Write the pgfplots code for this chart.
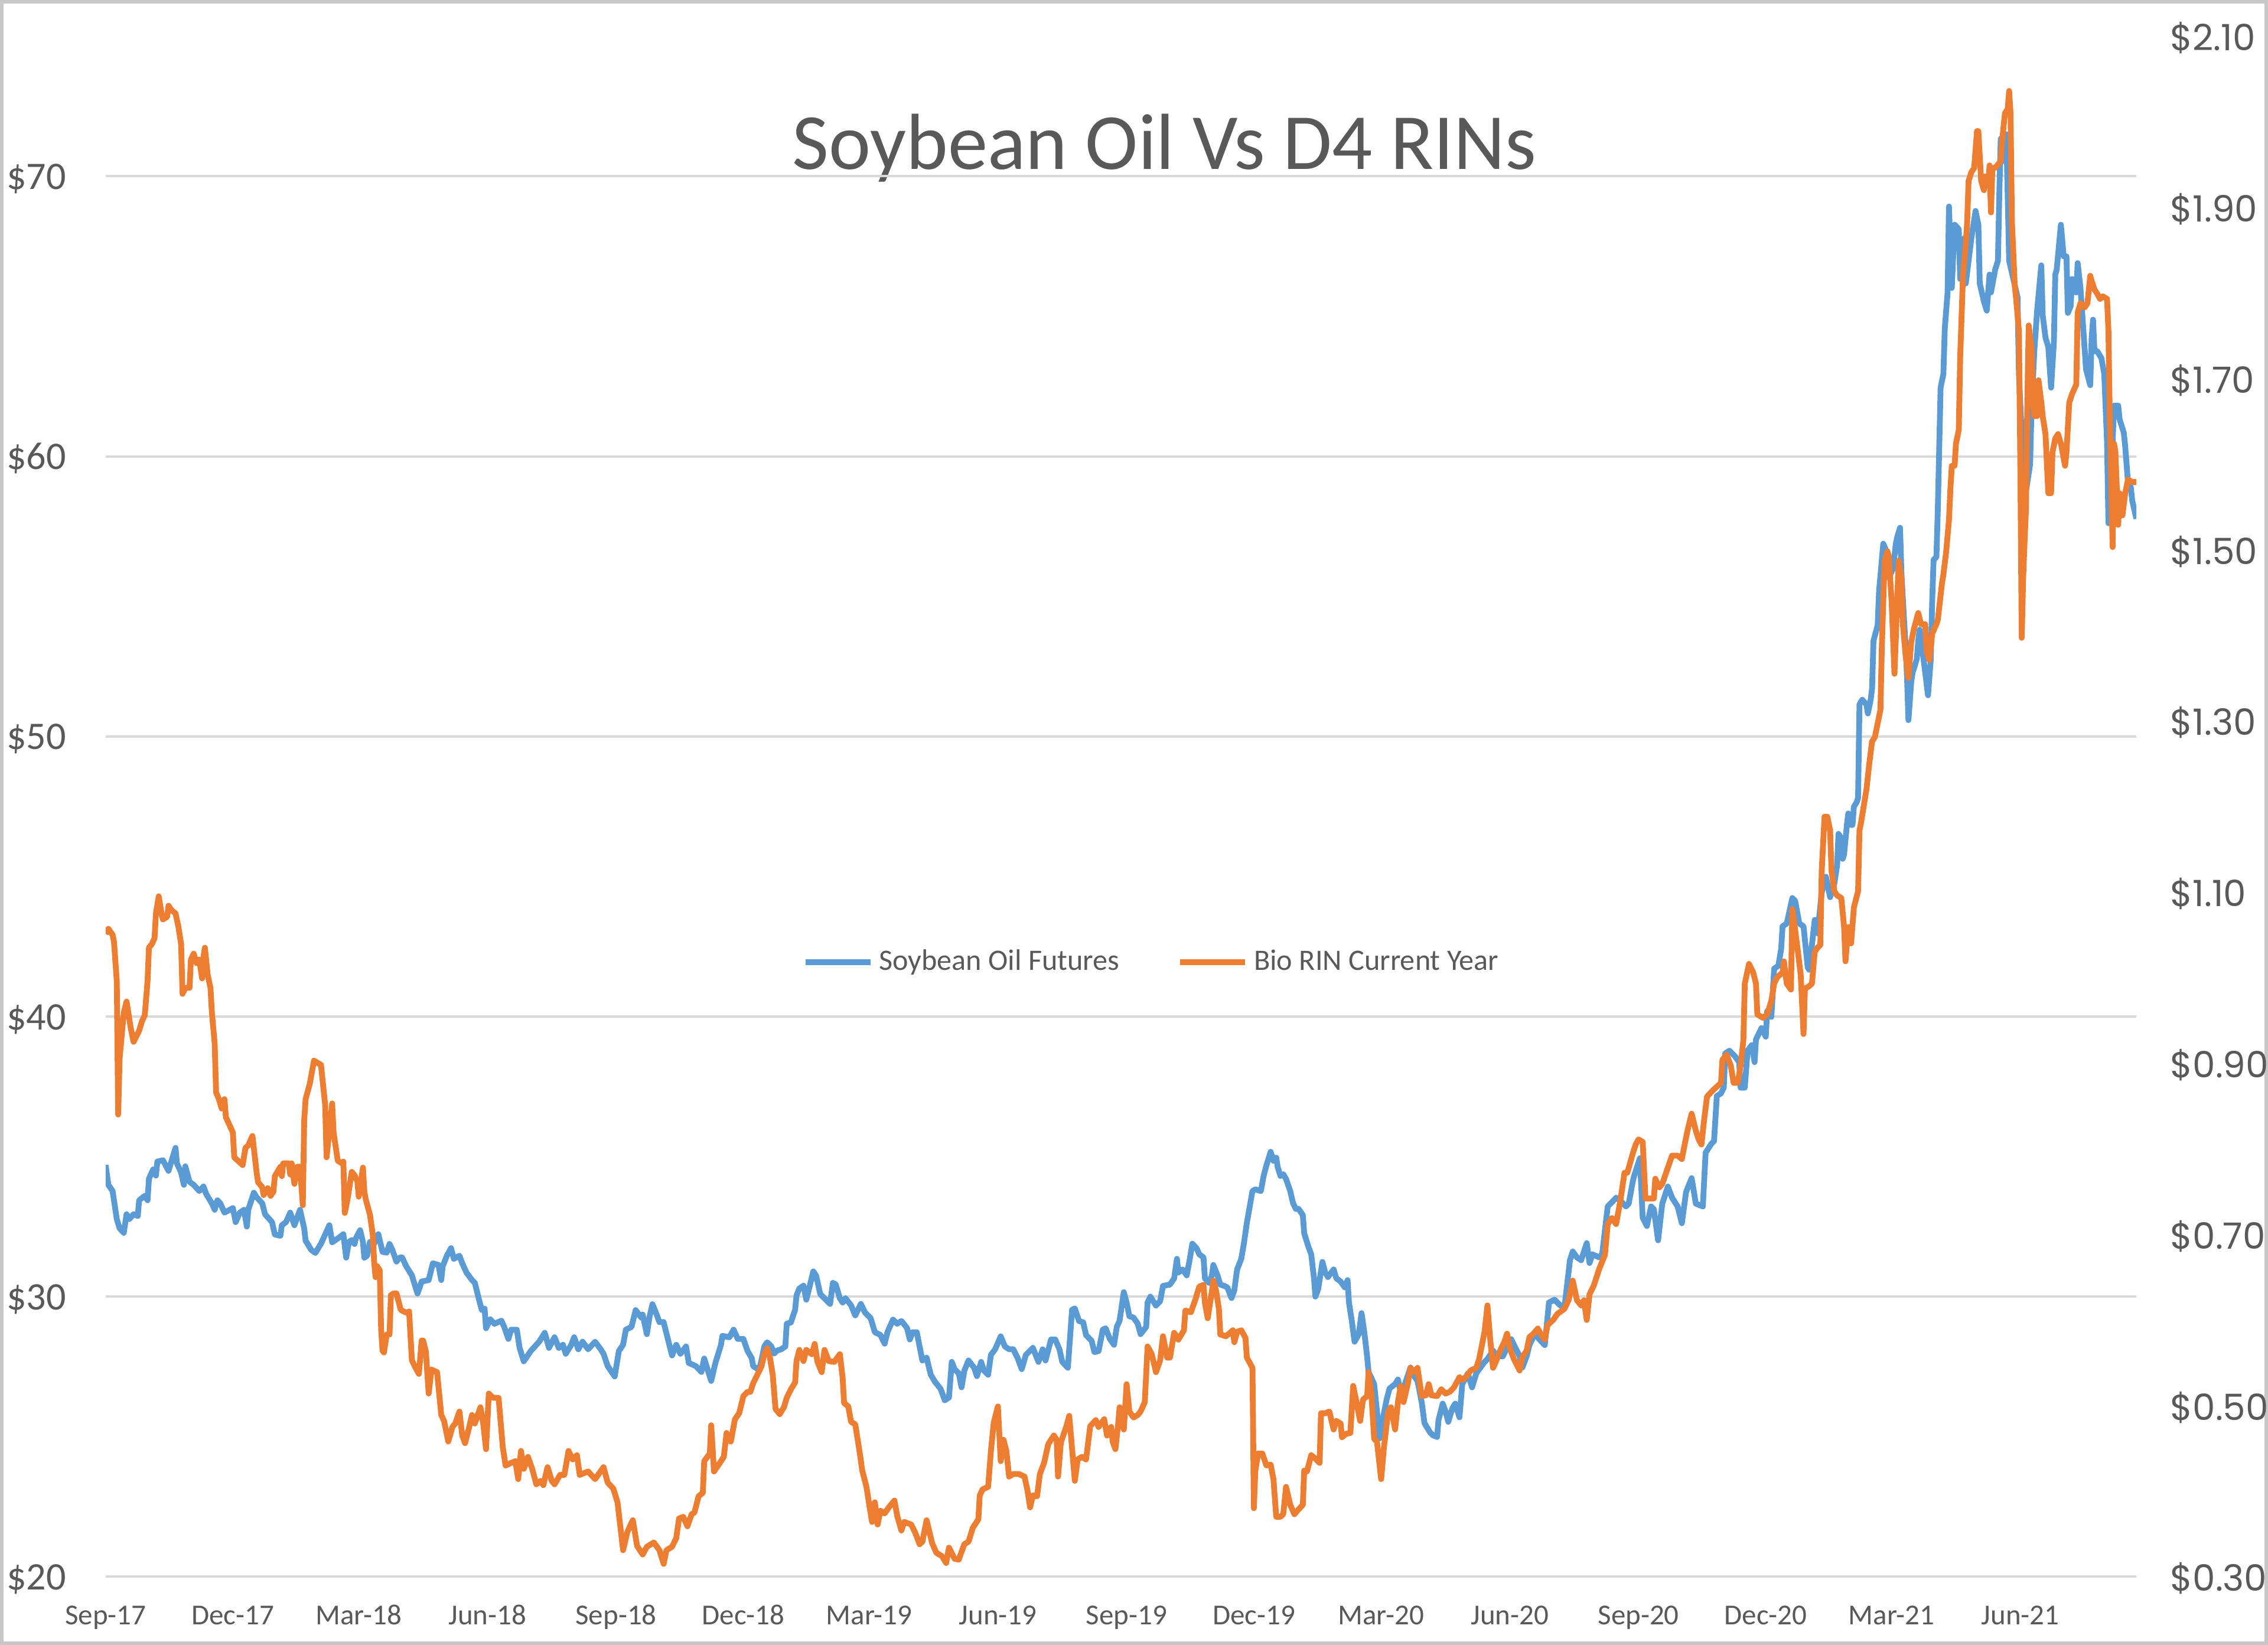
\documentclass[border=0pt]{standalone}
\usepackage{fontspec}
\setmainfont{Carlito}
\newfontfamily\rfont{Poppins}
\usepackage{pgfplots}
\pgfplotsset{compat=1.18}
\definecolor{sblue}{HTML}{5B9BD5}
\definecolor{sorange}{HTML}{ED7D31}
\definecolor{tgray}{HTML}{595959}
\definecolor{ggray}{HTML}{D9D9D9}
\begin{document}
\begin{tikzpicture}
\useasboundingbox (0,0) rectangle (784pt,568.5pt);
\draw[color=black!22, line width=1.2pt] (0.6pt,0.6pt) rectangle (783.4pt,567.9pt);
\node[anchor=base, font=\fontsize{27.5}{33}\selectfont, text=tgray] at (402.5pt,510pt) {Soybean Oil Vs D4 RINs};
\begin{axis}[
  at={(36.5pt,23.5pt)}, anchor=south west, scale only axis,
  width=702pt, height=532.5pt,
  xmin=0, xmax=1452, ymin=20, ymax=75,
  axis line style={draw=none}, tick style={draw=none},
  ytick={20,30,40,50,60,70},
  yticklabels={\$20,\$30,\$40,\$50,\$60,\$70},
  ymajorgrids, grid style={ggray, line width=0.8pt},
  xtick={0,91,181,273,365,456,546,638,730,821,912,1004,1096,1187,1277,1369},
  xticklabels={Sep-17,Dec-17,Mar-18,Jun-18,Sep-18,Dec-18,Mar-19,Jun-19,Sep-19,Dec-19,Mar-20,Jun-20,Sep-20,Dec-20,Mar-21,Jun-21},
  xticklabel style={font=\fontsize{10}{12}\selectfont, text=tgray, anchor=base, inner sep=0pt, yshift=-16.5pt},
  yticklabel style={font=\fontsize{13.5}{16}\selectfont, text=tgray, anchor=base east, inner sep=0pt, xshift=-13.5pt, yshift=-4.5pt},
]
\addplot[sblue, line width=2pt, line join=round] coordinates {
(0,34.7)(2,33.99)(5,33.77)(8,32.77)(10,32.44)(13,32.28)(15,32.94)(17,32.77)(20,32.94)(23,32.88)(24,33.44)(28,33.60)(30,33.44)(31,34.21)(34,34.54)(36,34.32)(37,34.82)(41,34.87)(45,34.49)(47,34.82)(50,35.31)(51,34.76)(54,34.43)(56,33.99)(57,34.65)(60,34.10)(63,33.99)(67,33.77)(70,33.93)(72,33.66)(76,33.33)(78,33.10)(80,33.44)(82,33.33)(85,33.00)(91,33.16)(93,32.66)(96,33.00)(99,33.10)(101,32.50)(102,33.10)(106,33.71)(108,33.55)(112,33.33)(114,32.94)(119,32.66)(121,32.22)(125,32.17)(126,32.55)(129,32.66)(132,33.00)(135,32.55)(139,33.10)(142,32.44)(143,32.00)(147,31.67)(150,31.56)(154,31.89)(160,32.55)(162,31.94)(167,32.11)
(170,32.23)(172,31.39)(174,31.95)(176,32.02)(178,31.88)(179,32.09)(182,32.37)(184,31.95)(185,31.39)(187,31.46)(189,31.95)(192,31.88)(195,32.23)(198,31.60)(201,31.57)(203,31.88)(205,31.67)(208,31.25)(210,31.39)
(212,31.40)(215,31.08)(219,30.76)(223,30.11)(226,30.54)(231,30.59)(234,31.19)(238,31.13)(240,30.59)(241,31.08)(244,31.46)(247,31.73)(249,31.35)(253,31.46)(255,31.19)(258,30.86)(262,30.59)(264,30.49)(267,29.89)(269,29.52)(271,29.57)(272,28.87)(275,29.19)(278,29.03)(283,29.14)(285,28.92)(288,28.49)(290,28.82)(294,28.82)(296,28.17)(299,27.69)(304,28.06)(310,28.39)(314,28.71)(317,28.17)(321,28.55)(324,28.17)(327,28.28)(329,27.96)(333,28.28)(335,28.55)(338,28.12)(341,28.39)(345,28.12)(350,28.39)(354,28.12)(356,27.96)(359,27.52)(364,27.15)(367,28.06)(370,28.28)(372,28.82)(376,28.92)(379,29.52)(383,29.25)(384,29.36)(387,28.66)(389,29.30)(391,29.73)(394,29.36)(396,29.09)(399,29.09)(402,28.49)(405,27.90)(408,28.28)(411,27.96)(415,28.22)(417,27.63)(422,27.52)(426,27.31)(428,27.79)(431,27.31)(433,26.99)(436,27.63)(440,28.28)(441,28.60)(446,28.55)(449,28.82)(452,28.49)(456,28.49)(459,28.06)
(462,27.8)(463,27.52)(466,27.42)(468,27.52)(471,28.22)(473,28.37)(476,28.22)(478,27.97)(480,28.07)(483,28.12)(486,28.22)(487,29.03)(490,29.08)(493,29.53)(494,30.04)(496,30.29)(499,30.39)(501,29.89)(504,30.49)(506,30.90)(508,30.75)(511,30.09)(515,29.89)(518,29.74)(520,30.49)(522,30.44)(525,29.94)(527,29.79)(529,29.94)(533,29.69)(536,29.33)(540,29.74)(543,29.43)(547,29.23)(550,28.73)(554,28.63)(557,28.32)(559,28.73)(563,29.18)(566,29.03)(569,29.13)(573,28.88)(575,28.47)(577,28.73)(580,28.73)(582,28.22)(584,27.72)(587,27.82)(590,27.21)(593,26.96)(597,26.71)(600,26.30)(603,26.40)(605,27.67)(607,27.41)(610,27.26)(612,26.76)(614,27.36)(617,27.72)(621,27.46)(623,27.16)(626,27.67)(628,27.36)(631,27.21)(633,27.92)(636,28.12)(640,28.58)(643,28.22)(646,28.12)(649,28.12)(652,27.82)(655,27.41)(658,27.92)(663,28.17)(667,27.67)(670,28.12)(672,27.72)(676,28.47)(679,28.47)(682,28.12)(684,27.67)(688,27.46)(691,29.53)(693,29.58)(696,29.13)(699,29.08)(701,28.63)(705,28.42)(707,28.02)
(710,28.06)(713,28.82)(715,28.87)(718,28.49)(721,28.28)(723,28.92)(725,29.14)(728,30.16)(730,29.79)(732,29.30)(735,29.25)(738,29.03)(740,28.66)(744,28.92)(745,29.79)(747,30.00)(751,29.68)(754,29.84)(756,30.38)(761,30.43)(764,30.65)(766,31.35)(767,30.86)(770,30.97)(773,30.76)(775,31.29)(777,31.89)(780,31.73)(782,31.51)(785,31.40)(786,30.65)(789,30.49)(791,30.76)(792,31.13)(795,30.76)(797,30.43)(800,30.38)(802,30.33)(805,29.95)(807,30.22)(809,30.97)(812,31.35)(814,31.94)(816,32.64)(820,33.77)(822,33.83)(826,33.77)(828,34.31)(830,34.69)(833,35.17)(835,34.85)(837,34.96)(838,34.63)(840,34.31)(842,34.37)(844,34.20)(847,33.77)(849,33.34)(851,33.13)(853,33.13)(856,32.91)(857,32.26)(860,31.78)(862,31.51)(864,30.65)(865,30.00)(867,30.27)(870,31.24)(872,30.86)(874,30.70)(878,30.97)(880,30.65)(883,30.54)(886,30.33)(888,30.59)(889,29.79)(891,29.14)(893,28.39)(896,28.66)(898,29.41)(900,28.71)(902,27.85)(903,27.31)(907,26.88)(909,25.91)(911,24.94)(913,25.59)(916,26.34)(918,26.72)(922,26.88)(924,27.04)(927,26.39)(929,26.88)(933,27.47)(935,27.20)(938,26.99)(941,26.23)(943,25.48)(947,25.15)(949,25.05)(952,24.99)(953,25.59)(956,26.18)(958,25.91)(960,25.53)(963,26.02)(965,26.18)(968,25.69)(970,26.88)
(972,27.06)(974,27.26)(977,26.76)(980,27.26)(983,27.47)(986,27.67)(988,27.77)(992,28.07)(995,27.87)(999,27.87)(1002,28.17)(1005,28.48)(1007,28.27)(1011,27.87)(1013,27.47)(1016,27.87)(1018,28.27)(1022,28.68)(1025,28.48)(1029,28.27)(1032,29.79)(1036,29.89)(1040,29.69)(1043,29.59)(1047,31.30)(1049,31.61)(1052,31.40)(1055,31.30)(1059,31.91)(1061,31.20)(1063,31.51)(1068,31.40)(1070,31.51)(1074,33.22)(1076,33.32)(1080,33.53)(1083,33.43)(1087,33.22)(1089,33.32)(1092,34.13)(1093,34.33)(1097,34.94)(1099,32.82)(1102,32.52)(1105,33.22)(1107,33.12)(1110,32.01)(1113,33.32)(1117,33.93)(1120,33.53)(1124,33.22)(1127,32.62)(1130,33.73)(1134,34.23)(1137,33.32)(1142,33.22)(1144,35.14)(1148,35.45)(1150,35.55)(1152,37.16)(1155,37.26)(1157,37.46)(1158,38.68)(1161,38.78)(1165,38.58)(1168,38.37)(1169,37.46)(1172,37.46)(1174,38.78)(1177,38.98)(1179,38.37)(1180,39.18)(1184,39.59)(1187,39.28)(1188,40.19)(1191,39.99)(1193,41.71)(1196,41.81)(1198,42.41)(1199,43.22)(1202,43.32)(1206,44.23)(1208,44.13)(1211,43.32)(1214,43.22)(1217,41.75)(1218,41.67)
(1220,42.56)(1222,43.45)(1224,42.97)(1227,44.42)(1230,44.99)(1233,44.26)(1236,44.74)(1238,45.39)(1239,46.52)(1241,46.36)(1242,45.63)(1243,45.79)(1245,46.84)(1246,47.25)(1248,46.84)(1249,46.84)(1250,47.49)(1252,47.65)(1253,47.81)
(1254,51.14)(1256,51.31)(1259,51.14)(1260,50.82)(1262,51.31)(1263,51.71)(1264,53.41)(1267,53.97)(1268,55.18)(1271,56.88)(1273,56.64)(1274,56.15)(1275,55.67)(1278,55.99)(1280,56.88)(1281,57.12)(1283,57.45)(1284,55.83)(1286,54.05)(1287,53.24)(1288,52.11)(1289,50.58)(1291,51.95)(1292,52.28)(1295,52.76)(1296,53.41)(1297,53.81)(1300,52.68)(1303,51.47)(1305,52.76)(1306,54.86)(1307,56.31)(1309,56.40)(1310,58.09)(1312,62.45)(1314,62.94)(1315,64.56)(1317,65.85)(1318,68.92)(1320,66.01)(1322,68.27)(1325,68.11)(1326,66.33)(1329,67.79)(1330,66.17)(1334,67.79)(1337,68.76)(1339,68.27)(1340,66.17)(1343,65.52)(1345,65.20)(1347,66.49)(1348,65.85)(1351,66.66)(1353,66.98)(1354,69.40)(1355,71.34)(1356,70.53)(1359,71.50)(1361,66.98)(1364,66.33)(1367,65.69)(1368,62.94)(1371,59.71)(1372,58.42)(1376,59.71)(1377,61.65)(1379,63.75)(1381,65.20)(1384,66.82)(1385,65.04)(1387,64.23)(1389,63.91)(1391,62.45)(1393,64.07)(1394,66.49)(1395,66.66)(1398,68.27)(1400,67.14)(1402,67.14)(1403,65.12)(1405,65.36)(1406,66.33)(1409,65.85)(1410,66.90)(1412,66.01)(1414,64.56)(1416,63.10)(1419,62.54)(1420,64.23)(1421,64.88)(1422,63.75)(1424,63.75)(1427,63.50)(1429,62.94)(1431,60.52)(1432,57.61)(1434,59.22)(1436,61.81)(1439,61.81)(1440,61.32)(1441,61.16)(1443,60.84)(1444,60.35)(1446,59.06)(1448,58.90)(1449,58.42)(1452,57.77)
};
\end{axis}
\begin{axis}[
  at={(36.5pt,23.5pt)}, anchor=south west, scale only axis,
  width=702pt, height=532.5pt,
  xmin=0, xmax=1452, ymin=0.3, ymax=2.1,
  axis x line=none, axis y line*=right,
  axis line style={draw=none}, tick style={draw=none},
  ytick={0.3,0.5,0.7,0.9,1.1,1.3,1.5,1.7,1.9,2.1},
  yticklabels={\$0.30,\$0.50,\$0.70,\$0.90,\$1.10,\$1.30,\$1.50,\$1.70,\$1.90,\$2.10},
  yticklabel style={font=\rfont\fontsize{12.5}{15}\selectfont, text=tgray, anchor=base west, inner sep=0pt, xshift=11.5pt, yshift=-5pt},
  legend columns=2,
  legend style={at={(0.516,0.399)}, anchor=center, draw=none, fill=none,
    font=\fontsize{10.25}{12}\selectfont, text=tgray,
    /tikz/every even column/.append style={column sep=18pt}},
  legend image code/.code={\draw[#1] (0pt,0pt) -- (22.5pt,0pt);},
]
\addlegendimage{sblue, line width=2pt}
\addlegendentry{Soybean Oil Futures}
\addplot[sorange, line width=2pt, line join=round] coordinates {
(0,1.051)(2,1.057)(5,1.050)(6,1.042)(8,0.996)(9,0.840)(10,0.905)(13,0.959)(15,0.972)(18,0.941)(20,0.925)(24,0.938)(26,0.949)(28,0.956)(30,0.996)(31,1.035)(33,1.039)(35,1.046)(36,1.075)(38,1.095)(40,1.075)(41,1.068)(44,1.071)(45,1.084)(47,1.079)(50,1.075)(52,1.060)(54,1.039)(55,0.981)(57,0.988)(60,0.988)(61,1.021)(63,1.028)(65,1.017)(67,1.021)(69,0.999)(70,1.024)(71,1.035)(73,1.003)(75,0.988)(76,0.959)(78,0.923)(79,0.866)(81,0.858)(83,0.847)(85,0.858)(86,0.837)(91,0.819)(92,0.790)(96,0.784)(98,0.781)(100,0.801)(102,0.804)(105,0.815)(108,0.772)(109,0.761)(112,0.755)(113,0.746)(116,0.754)(118,0.745)(120,0.750)(121,0.768)(125,0.779)(126,0.768)(127,0.783)(131,0.783)(132,0.770)(133,0.783)(135,0.759)(137,0.779)(139,0.779)(141,0.734)(142,0.833)(143,0.858)(146,0.876)(149,0.903)(154,0.898)(157,0.851)(158,0.790)(162,0.853)(163,0.819)(166,0.786)(169,0.783)
(170,0.785)(171,0.725)(173,0.741)(176,0.773)(178,0.769)(180,0.762)(181,0.744)(184,0.778)(185,0.750)(186,0.741)(189,0.723)(191,0.700)(192,0.668)(193,0.650)(194,0.663)(196,0.658)(197,0.589)(198,0.564)(199,0.562)(201,0.583)(203,0.583)(204,0.629)(206,0.631)(208,0.631)(211,0.612)(213,0.610)(216,0.608)(217,0.610)
(219,0.553)(221,0.546)(224,0.537)(226,0.576)(227,0.576)(229,0.563)(231,0.514)(233,0.542)(237,0.539)(240,0.489)(242,0.482)(245,0.458)(248,0.475)(250,0.479)(253,0.493)(255,0.465)(257,0.456)(260,0.475)(262,0.489)(264,0.479)(268,0.498)(270,0.479)(272,0.449)(274,0.514)(277,0.509)(281,0.509)(284,0.451)(286,0.430)(290,0.433)(293,0.435)(295,0.414)(297,0.447)(299,0.426)(302,0.440)(305,0.426)(308,0.408)(311,0.412)(313,0.407)(316,0.428)(319,0.412)(321,0.408)(325,0.419)(328,0.419)(331,0.447)(334,0.437)(337,0.442)(339,0.419)(345,0.423)(350,0.414)(356,0.428)(359,0.410)(363,0.403)(366,0.387)(368,0.359)(370,0.331)(373,0.352)(376,0.363)(377,0.366)(380,0.336)(384,0.326)(387,0.335)(392,0.340)(396,0.331)(399,0.315)(401,0.331)(405,0.335)(408,0.345)(410,0.368)(413,0.370)(416,0.359)(419,0.373)(421,0.375)(424,0.394)(427,0.398)(428,0.435)(432,0.444)(433,0.477)(435,0.423)(440,0.435)(442,0.440)(444,0.468)(447,0.458)(450,0.484)(453,0.491)(456,0.511)(459,0.516)
(461,0.516)(463,0.526)(466,0.536)(469,0.546)(471,0.560)(473,0.567)(475,0.556)(477,0.536)(479,0.496)(482,0.490)(485,0.498)(487,0.509)(490,0.519)(493,0.527)(494,0.552)(496,0.565)(499,0.552)(501,0.565)(505,0.560)(507,0.572)(509,0.551)(512,0.539)(514,0.565)(517,0.552)(521,0.551)(525,0.560)(527,0.532)(528,0.503)(531,0.499)(533,0.481)(536,0.478)(539,0.447)(541,0.424)(544,0.405)(546,0.384)(548,0.364)(550,0.387)(552,0.361)(554,0.377)(557,0.374)(560,0.381)(564,0.389)(566,0.371)(569,0.354)(571,0.364)(576,0.361)(579,0.351)(582,0.338)(584,0.341)(587,0.366)(591,0.339)(594,0.328)(598,0.324)(601,0.316)(603,0.334)(607,0.321)(610,0.320)(614,0.338)(617,0.341)(620,0.357)(624,0.367)(625,0.395)(627,0.402)(631,0.405)(633,0.447)(635,0.480)(638,0.499)(640,0.435)(642,0.460)(644,0.447)(646,0.417)(649,0.420)(653,0.420)(657,0.417)(659,0.402)(661,0.381)(663,0.395)(666,0.394)(668,0.420)(671,0.433)(674,0.455)(678,0.465)(680,0.460)(681,0.417)(683,0.457)(687,0.476)(689,0.488)(691,0.450)(693,0.412)(695,0.437)(698,0.440)(701,0.437)(704,0.476)(708,0.483)
(710,0.475)(714,0.484)(716,0.465)(719,0.475)(720,0.458)(722,0.449)(724,0.479)(725,0.498)(728,0.472)(730,0.525)(732,0.493)(735,0.486)(738,0.489)(740,0.493)(743,0.504)(745,0.569)(748,0.560)(751,0.539)(754,0.553)(756,0.581)(759,0.556)(761,0.556)(764,0.585)(767,0.577)(771,0.588)(772,0.611)(776,0.609)(779,0.623)(782,0.639)(785,0.641)(786,0.620)(788,0.602)(791,0.634)(792,0.646)(794,0.634)(796,0.613)(797,0.583)(801,0.581)(804,0.585)(806,0.588)(807,0.574)(809,0.586)(812,0.588)(815,0.579)(816,0.556)(820,0.544)(821,0.380)(822,0.423)(824,0.444)(827,0.444)(830,0.430)(833,0.431)(835,0.414)(837,0.370)(840,0.370)(842,0.373)(844,0.405)(847,0.384)(850,0.373)(852,0.377)(856,0.384)(857,0.424)(859,0.423)(862,0.442)(865,0.438)(868,0.433)(869,0.491)(872,0.491)(875,0.493)(878,0.472)(880,0.482)(883,0.479)(884,0.463)(887,0.467)(890,0.468)(892,0.523)(894,0.507)(897,0.482)(899,0.507)(902,0.511)(903,0.539)(905,0.514)(907,0.461)(909,0.458)(912,0.414)(914,0.451)(917,0.493)(919,0.498)(922,0.472)(924,0.504)(926,0.523)(928,0.504)(931,0.525)(933,0.544)(936,0.539)(938,0.544)(941,0.511)(944,0.512)(946,0.525)(948,0.512)(952,0.511)(955,0.519)(958,0.514)(961,0.516)(964,0.521)(968,0.533)(970,0.530)
(973,0.534)(976,0.541)(980,0.544)(982,0.554)(984,0.570)(986,0.587)(988,0.617)(990,0.577)(992,0.544)(994,0.551)(997,0.564)(1000,0.574)(1002,0.584)(1004,0.567)(1007,0.554)(1011,0.541)(1013,0.557)(1016,0.564)(1018,0.580)(1021,0.584)(1024,0.590)(1026,0.584)(1029,0.577)(1031,0.594)(1035,0.600)(1038,0.607)(1043,0.613)(1046,0.623)(1049,0.646)(1052,0.623)(1055,0.617)(1057,0.623)(1059,0.600)(1061,0.630)(1064,0.640)(1068,0.660)(1072,0.676)(1074,0.712)(1077,0.719)(1080,0.712)(1083,0.739)(1086,0.772)(1088,0.772)(1092,0.795)(1094,0.805)(1096,0.811)(1099,0.808)(1101,0.742)(1104,0.742)(1107,0.742)(1108,0.765)(1111,0.755)(1113,0.759)(1117,0.778)(1120,0.792)(1124,0.792)(1127,0.788)(1129,0.805)(1131,0.821)(1134,0.841)(1137,0.821)(1139,0.811)(1141,0.805)(1143,0.835)(1145,0.861)(1149,0.868)(1153,0.874)(1155,0.877)(1156,0.904)(1159,0.910)(1162,0.897)(1164,0.877)(1167,0.877)(1169,0.897)(1171,0.927)(1172,0.993)(1175,1.016)(1178,1.006)(1180,0.993)(1181,0.957)(1185,0.953)(1188,0.957)(1191,0.973)(1193,0.993)(1195,1.000)(1199,1.006)(1200,1.019)(1202,0.993)(1205,0.986)
(1206,1.080)(1208,1.056)(1210,1.030)(1212,1.003)(1214,0.934)(1215,0.987)(1218,0.990)(1220,0.993)(1222,1.030)(1224,1.035)(1226,1.038)(1227,1.125)(1229,1.188)(1231,1.188)(1233,1.172)(1234,1.125)(1236,1.101)(1238,1.096)(1241,1.093)(1243,1.059)(1244,1.019)(1246,1.059)(1248,1.040)(1250,1.082)(1253,1.101)(1254,1.172)(1255,1.180)(1259,1.22)(1261,1.25)
(1263,1.276)(1265,1.281)(1267,1.297)(1269,1.313)(1270,1.387)(1271,1.439)(1272,1.487)(1274,1.498)(1275,1.492)(1277,1.439)(1279,1.355)(1280,1.397)(1282,1.487)(1284,1.466)(1285,1.413)(1287,1.376)(1289,1.350)(1291,1.392)(1293,1.408)(1296,1.426)(1298,1.413)(1301,1.413)(1302,1.381)(1304,1.371)(1306,1.402)(1309,1.413)(1310,1.418)(1313,1.461)(1314,1.471)(1316,1.498)(1318,1.535)(1319,1.571)(1320,1.598)(1322,1.598)(1323,1.624)(1325,1.640)(1326,1.725)(1328,1.820)(1330,1.857)(1331,1.883)(1332,1.931)(1334,1.941)(1336,1.946)(1338,1.989)(1339,1.989)(1341,1.931)(1343,1.920)(1344,1.936)(1346,1.925)(1347,1.949)(1348,1.894)(1349,1.946)(1351,1.946)(1355,1.954)(1356,1.978)(1358,2.010)(1360,2.015)(1361,2.036)(1362,2.010)(1363,1.883)(1365,1.809)(1366,1.793)(1368,1.756)(1369,1.598)(1370,1.397)(1371,1.466)(1372,1.508)(1373,1.545)(1374,1.672)(1375,1.762)(1377,1.735)(1378,1.672)(1379,1.656)(1381,1.656)(1382,1.698)(1384,1.672)(1385,1.656)(1387,1.635)(1389,1.566)(1391,1.566)(1392,1.614)(1394,1.630)(1396,1.635)(1398,1.624)(1401,1.598)(1402,1.614)(1404,1.672)(1406,1.682)(1409,1.693)(1410,1.777)(1412,1.788)(1415,1.783)(1417,1.788)(1419,1.820)(1420,1.814)(1422,1.804)(1424,1.799)(1426,1.793)(1428,1.796)(1431,1.793)(1432,1.756)(1433,1.651)(1435,1.503)(1436,1.624)(1437,1.614)(1439,1.529)(1440,1.566)(1442,1.540)(1444,1.566)(1446,1.582)(1449,1.579)(1452,1.579)
};
\addlegendentry{Bio RIN Current Year}
\end{axis}
\end{tikzpicture}
\end{document}
